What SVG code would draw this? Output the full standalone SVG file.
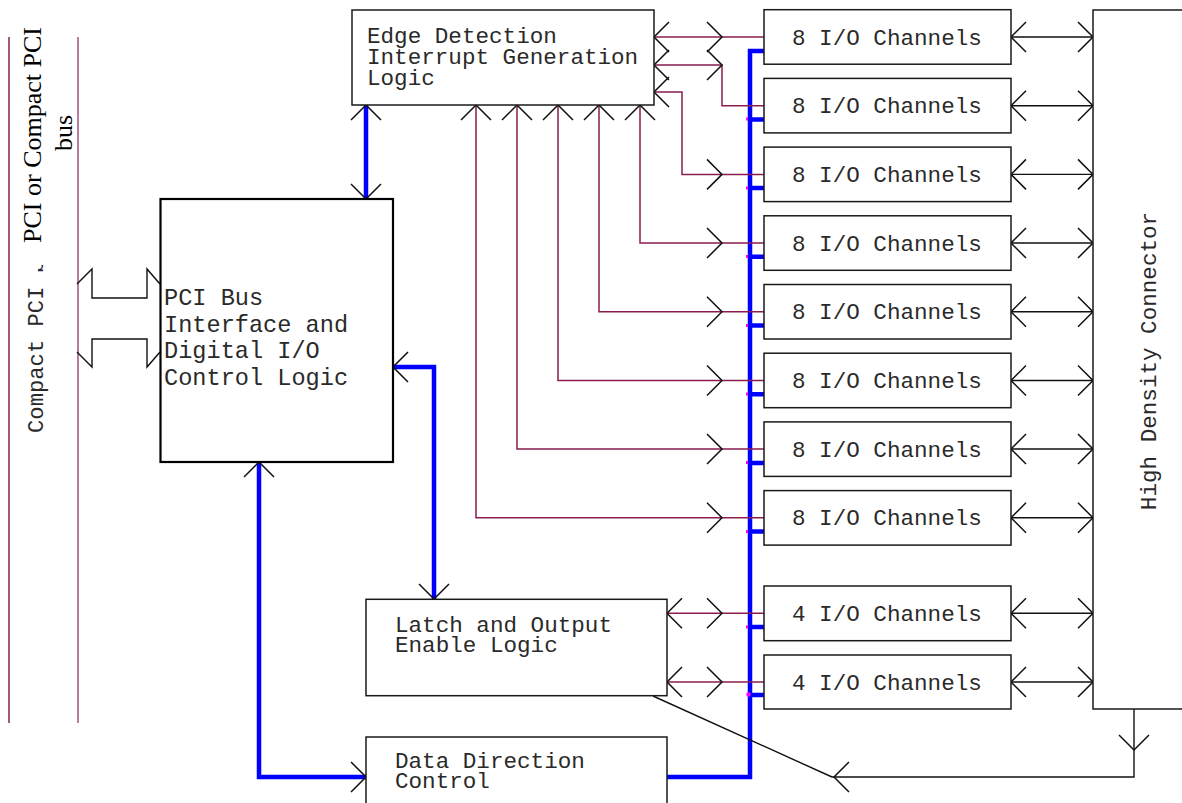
<svg xmlns="http://www.w3.org/2000/svg" width="1182" height="803" viewBox="0 0 1182 803">
  <style>
    .box { fill: #fff; stroke: #1a1a1a; stroke-width: 1.5; }
    .box-heavy { fill: #fff; stroke: #000; stroke-width: 2.2; }
    .mono { font-family: "Liberation Mono", "Courier New", monospace; fill: #2a2a2a; }
    .t22 { font-size: 22.6px; }
    .t23 { font-size: 23.6px; }
    .serif { font-family: "Liberation Serif", "Times New Roman", serif; font-size: 26px; fill: #000; }
    .sig { fill: none; stroke: #8b1c50; stroke-width: 1.5; }
    .bus { fill: none; stroke: #0000ff; stroke-width: 4.5; stroke-linejoin: miter; }
    .head { fill: none; stroke: #111; stroke-width: 1.5; }
    .wire { fill: none; stroke: #111; stroke-width: 1.4; }
    .tick { fill: #ff00ff; }
  </style>
  <defs>
    <!-- open V arrowheads, tip at the origin -->
    <path id="hL" d="M15,-15 L0,0 L15,15" class="head"/>
    <path id="hR" d="M-15,-15 L0,0 L-15,15" class="head"/>
    <path id="hU" d="M-15,15 L0,0 L15,15" class="head"/>
    <path id="hD" d="M-15,-15 L0,0 L15,-15" class="head"/>
  </defs>
  <rect width="1182" height="803" fill="#fff"/>

  <!-- host bus rails and labels -->
  <g id="host-bus">
    <line x1="9" y1="37" x2="9" y2="723" stroke="#8b1c50" stroke-width="1.5"/>
    <line x1="78" y1="37" x2="78" y2="723" stroke="#a0507f" stroke-width="1.5"/>
    <text class="mono" font-size="22.2px" transform="translate(43,433) rotate(-90)">Compact PCI bus</text>
    <rect x="11" y="18" width="64" height="247" fill="#fff"/>
    <rect x="11" y="262" width="27" height="14" fill="#fff"/>
    <text class="serif" text-anchor="middle" transform="translate(41,135) rotate(-90)">PCI or Compact PCI</text>
    <text class="serif" text-anchor="middle" transform="translate(72,133) rotate(-90)">bus</text>
  </g>

  <!-- connectors -->
  <g id="connectors">
    <!-- hollow bus arrows between host bus and PCI interface -->
    <path class="wire" d="M77,284 L92,269 L92,298 L147,298 L147,269 L160,284"/>
    <path class="wire" d="M77,352 L92,367 L92,339 L147,339 L147,367 L160,352"/>

    <!-- blue data paths -->
    <path class="bus" d="M366,105 V199"/>
    <path class="bus" d="M393,367 H434 V599"/>
    <path class="bus" d="M259,462 V777 H366"/>
    <path class="bus" d="M764,51 H750 V777 H667"/>
    <path class="bus" d="M750,119.4 H764 M750,188.1 H764 M750,256.8 H764 M750,325.5 H764 M750,394.2 H764 M750,462.9 H764 M750,531.6 H764 M750,627 H764 M750,695 H764"/>
    <rect class="tick" x="746" y="117.5" width="2" height="3"/>
    <rect class="tick" x="746" y="186.5" width="2" height="3"/>
    <rect class="tick" x="746" y="255" width="2" height="3"/>
    <rect class="tick" x="746" y="324" width="2" height="3"/>
    <rect class="tick" x="746" y="392.5" width="2" height="3"/>
    <rect class="tick" x="746" y="461" width="2" height="3"/>
    <rect class="tick" x="746" y="530" width="2" height="3"/>
    <rect class="tick" x="746" y="625.5" width="2" height="3"/>
    <circle class="tick" cx="748.5" cy="694.5" r="2.2"/>

    <use href="#hU" x="366" y="105"/>
    <use href="#hD" x="366" y="199"/>
    <use href="#hL" x="393" y="367"/>
    <use href="#hD" x="434" y="599"/>
    <use href="#hU" x="259" y="462"/>
    <use href="#hR" x="366" y="777"/>

    <!-- edge detection signal lines -->
    <path class="sig" d="M654,37 H764"/>
    <path class="sig" d="M654,65 H722 V105.7 H764"/>
    <path class="sig" d="M654,92 H682 V174.4 H764"/>
    <path class="sig" d="M640,105 V243 H764"/>
    <path class="sig" d="M599,105 V311.8 H764"/>
    <path class="sig" d="M558,105 V380.5 H764"/>
    <path class="sig" d="M517,105 V449 H764"/>
    <path class="sig" d="M476,105 V517.8 H764"/>
    <use href="#hL" x="654" y="37"/>
    <use href="#hL" x="654" y="65"/>
    <use href="#hL" x="654" y="92"/>
    <use href="#hU" x="640" y="105"/>
    <use href="#hU" x="599" y="105"/>
    <use href="#hU" x="558" y="105"/>
    <use href="#hU" x="517" y="105"/>
    <use href="#hU" x="476" y="105"/>
    <use href="#hR" x="722" y="37"/>
    <use href="#hR" x="722" y="65"/>
    <use href="#hR" x="722" y="174.4"/>
    <use href="#hR" x="722" y="243"/>
    <use href="#hR" x="722" y="311.8"/>
    <use href="#hR" x="722" y="380.5"/>
    <use href="#hR" x="722" y="449"/>
    <use href="#hR" x="722" y="517.8"/>

    <!-- latch signal lines -->
    <path class="sig" d="M667,613.3 H764"/>
    <path class="sig" d="M667,682 H764"/>
    <use href="#hL" x="667" y="613.3"/>
    <use href="#hR" x="722" y="613.3"/>
    <use href="#hL" x="667" y="682"/>
    <use href="#hR" x="722" y="682"/>

    <!-- channel to connector links -->
    <path class="wire" d="M1011,37 H1093 M1011,105.7 H1093 M1011,174.4 H1093 M1011,243 H1093 M1011,311.8 H1093 M1011,380.5 H1093 M1011,449 H1093 M1011,517.8 H1093 M1011,613.3 H1093 M1011,682 H1093"/>
    <use href="#hL" x="1011" y="37"/><use href="#hR" x="1093" y="37"/>
    <use href="#hL" x="1011" y="105.7"/><use href="#hR" x="1093" y="105.7"/>
    <use href="#hL" x="1011" y="174.4"/><use href="#hR" x="1093" y="174.4"/>
    <use href="#hL" x="1011" y="243"/><use href="#hR" x="1093" y="243"/>
    <use href="#hL" x="1011" y="311.8"/><use href="#hR" x="1093" y="311.8"/>
    <use href="#hL" x="1011" y="380.5"/><use href="#hR" x="1093" y="380.5"/>
    <use href="#hL" x="1011" y="449"/><use href="#hR" x="1093" y="449"/>
    <use href="#hL" x="1011" y="517.8"/><use href="#hR" x="1093" y="517.8"/>
    <use href="#hL" x="1011" y="613.3"/><use href="#hR" x="1093" y="613.3"/>
    <use href="#hL" x="1011" y="682"/><use href="#hR" x="1093" y="682"/>

    <!-- connector return path to latch -->
    <path class="wire" d="M1134,709 V777 H832"/>
    <path class="wire" d="M653,696 L832,777"/>
    <use href="#hD" x="1134" y="750"/>
    <use href="#hL" x="834" y="777"/>
  </g>

  <g id="pci-interface">
    <rect class="box-heavy" x="160.5" y="199" width="232.5" height="263"/>
    <text class="mono t23" x="164" y="305">PCI Bus</text>
    <text class="mono t23" x="164" y="331.5">Interface and</text>
    <text class="mono t23" x="164" y="358">Digital I/O</text>
    <text class="mono t23" x="164" y="385">Control Logic</text>
  </g>

  <g id="edge-detection">
    <rect class="box" x="352" y="10" width="302" height="95"/>
    <text class="mono t22" x="367" y="43">Edge Detection</text>
    <text class="mono t22" x="367" y="64">Interrupt Generation</text>
    <text class="mono t22" x="367" y="85">Logic</text>
  </g>

  <g id="latch-output">
    <rect class="box" x="366" y="599.3" width="301" height="96.4"/>
    <text class="mono t22" x="395" y="632">Latch and Output</text>
    <text class="mono t22" x="395" y="652">Enable Logic</text>
  </g>

  <g id="data-direction">
    <rect class="box" x="366" y="737" width="301" height="80"/>
    <text class="mono t22" x="395" y="768">Data Direction</text>
    <text class="mono t22" x="395" y="788">Control</text>
  </g>

  <g id="ch1"><rect class="box" x="764" y="9.7" width="247" height="54.5"/><text class="mono t22" x="792" y="44.5">8 I/O Channels</text></g>
  <g id="ch2"><rect class="box" x="764" y="78.4" width="247" height="54.5"/><text class="mono t22" x="792" y="113.2">8 I/O Channels</text></g>
  <g id="ch3"><rect class="box" x="764" y="147.1" width="247" height="54.5"/><text class="mono t22" x="792" y="181.9">8 I/O Channels</text></g>
  <g id="ch4"><rect class="box" x="764" y="215.8" width="247" height="54.5"/><text class="mono t22" x="792" y="250.6">8 I/O Channels</text></g>
  <g id="ch5"><rect class="box" x="764" y="284.5" width="247" height="54.5"/><text class="mono t22" x="792" y="319.3">8 I/O Channels</text></g>
  <g id="ch6"><rect class="box" x="764" y="353.2" width="247" height="54.5"/><text class="mono t22" x="792" y="388">8 I/O Channels</text></g>
  <g id="ch7"><rect class="box" x="764" y="421.9" width="247" height="54.5"/><text class="mono t22" x="792" y="456.7">8 I/O Channels</text></g>
  <g id="ch8"><rect class="box" x="764" y="490.6" width="247" height="54.5"/><text class="mono t22" x="792" y="525.4">8 I/O Channels</text></g>
  <g id="ch9"><rect class="box" x="764" y="586" width="247" height="54.7"/><text class="mono t22" x="792" y="620.8">4 I/O Channels</text></g>
  <g id="ch10"><rect class="box" x="764" y="655" width="247" height="54"/><text class="mono t22" x="792" y="689.5">4 I/O Channels</text></g>

  <g id="high-density-connector">
    <rect class="box" x="1093" y="10" width="100" height="699"/>
    <text class="mono t22" text-anchor="middle" transform="translate(1156,361) rotate(-90)">High Density Connector</text>
  </g>
</svg>
